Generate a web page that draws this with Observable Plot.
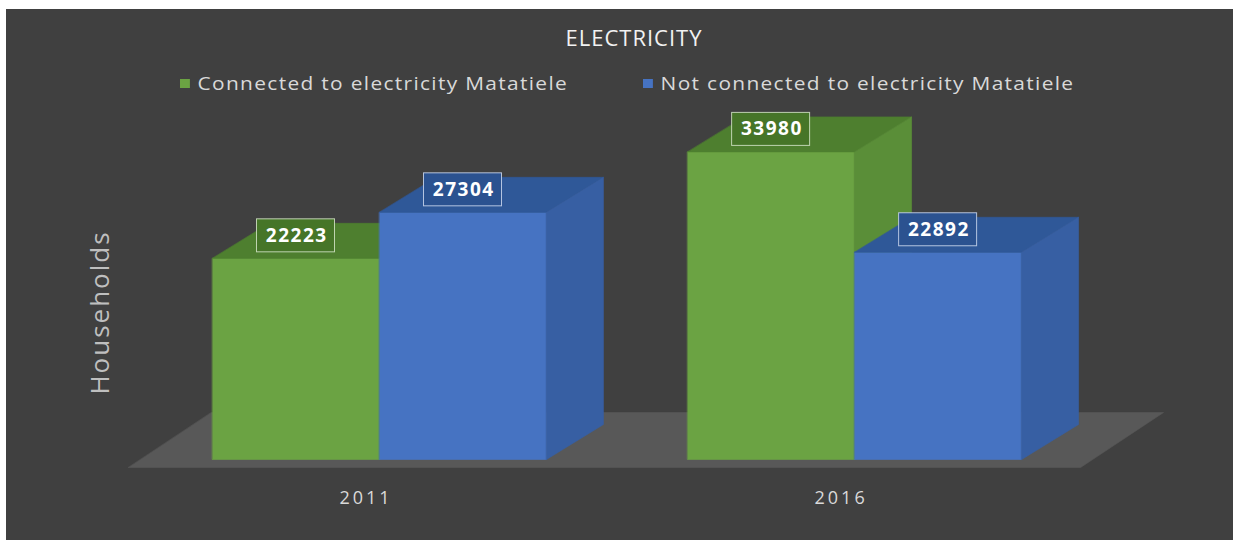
<!DOCTYPE html>
<html>
<head>
<meta charset="utf-8">
<script src="https://cdn.jsdelivr.net/npm/d3@7"></script>
<script src="https://cdn.jsdelivr.net/npm/@observablehq/plot@0.6"></script>
<style>
  html, body { margin: 0; padding: 0; background: #ffffff; }
  body { width: 1233px; height: 540px; position: relative; overflow: hidden; font-family: "Open Sans", "Noto Sans", sans-serif; }
  #frame { position: absolute; left: 6px; top: 9px; width: 1227px; height: 531px; background: #404040; }
  #title { position: absolute; left: 0; width: 1256px; top: 13px; text-align: center; color: #f2f2f2; font-size: 22px; letter-spacing: 1px; }
  .leg { position: absolute; top: 61px; color: #d9d9d9; font-size: 19px; letter-spacing: 1.2px; white-space: nowrap; transform: scaleX(1.1); transform-origin: 0 50%; }
  .sw { display: inline-block; width: 9px; height: 9px; margin-right: 7px; vertical-align: 2px; }
  #chart { position: absolute; left: 0; top: 100px; }
  .hh text { letter-spacing: 2px; }
  .vals text { letter-spacing: 1.5px; }
  .years text { letter-spacing: 3px; }
</style>
</head>
<body>
<div id="frame">
  <div id="title">ELECTRICITY</div>
  <div id="legend"></div>
  <div id="chart"></div>
</div>
<script>
// ---- data ----
const years = ["2011", "2016"];
const seriesNames = ["Connected to electricity Matatiele", "Not connected to electricity Matatiele"];
const connected = [22223, 33980];
const notConnected = [27304, 22892];

// ---- styles ----
const frontColors = ["#6ba343", "#4673c2"];
const topColors = ["#4e7f2f", "#2f5898"];
const sideColors = ["#5a8e38", "#375fa3"];
const boxFills = ["#467528", "#2b5290"];
const boxStrokes = ["#d4e4c8", "#cdd8ee"];
const GAP = 0.845;          // gap between year groups (in bar widths)
const DX = 0.341, DY = 3867; // 3D depth offset (x in bar widths, y in value units)
const FLOOR = {left: -0.503, right: 5.198, front: -884, back: 5193, dx: 0.497};

const seriesValues = [connected, notConnected];
const bars = [];
years.forEach((year, i) => {
  seriesNames.forEach((s, j) => {
    const x0 = i * (2 + GAP) + j;
    bars.push({year, s, j, value: seriesValues[j][i], x0, x1: x0 + 1, cx: x0 + 0.5});
  });
});

// polygons in painter order
const polys = [];
let pid = 0;
function poly(points, color) {
  const id = pid++;
  points.forEach(([x, y]) => polys.push({id, x, y, color}));
}
poly([[FLOOR.left, FLOOR.front], [FLOOR.right, FLOOR.front],
      [FLOOR.right + FLOOR.dx, FLOOR.back], [FLOOR.left + FLOOR.dx, FLOOR.back]], "#585858");
for (const b of bars) {
  const v = b.value;
  poly([[b.x0, 0], [b.x1, 0], [b.x1, v], [b.x0, v]], frontColors[b.j]);
  poly([[b.x0, v], [b.x1, v], [b.x1 + DX, v + DY], [b.x0 + DX, v + DY]], topColors[b.j]);
  poly([[b.x1, 0], [b.x1 + DX, DY], [b.x1 + DX, v + DY], [b.x1, v]], sideColors[b.j]);
}

const yearLabels = years.map((year, i) => ({year, cx: i * (2 + GAP) + 1, y0: 0}));
const xMax = (years.length - 1) * (2 + GAP) + seriesNames.length;

const chart = Plot.plot({
  width: 1227,
  height: 431,
  marginLeft: 206,
  marginRight: 1227 - 206 - xMax * 167,
  marginTop: 6,
  marginBottom: 81,
  style: {background: "transparent", fontFamily: "'Open Sans', 'Noto Sans', sans-serif", overflow: "visible"},
  x: {domain: [0, xMax], axis: null},
  y: {domain: [0, 38000], axis: null},
  color: {type: "identity"},
  marks: [
    Plot.line(polys, {x: "x", y: "y", z: "id", fill: "color", stroke: "color", strokeWidth: 0.6, curve: "linear-closed"}),
    Plot.rect(bars, {x1: "cx", x2: "cx", y1: "value", y2: "value",
      insetLeft: -39, insetRight: -39, insetTop: -16.5, insetBottom: -16.5, dy: -22.5,
      fill: d => boxFills[d.j], stroke: d => boxStrokes[d.j], strokeWidth: 1, strokeOpacity: 0.85}),
    Plot.text(bars, {x: "cx", y: "value", dy: -22.5, dx: 0.75, text: d => String(d.value),
      fill: "#ffffff", fontWeight: "bold", fontSize: 19, className: "vals"}),
    Plot.text(yearLabels, {x: "cx", y: "y0", dy: 39, dx: -13.5, text: "year", fill: "#d9d9d9", fontSize: 18, className: "years"}),
    Plot.text(["Households"], {frameAnchor: "left", textAnchor: "middle", rotate: -90, dx: -112, dy: 25, text: d => d,
      fill: "#bfbfbf", fontSize: 26, className: "hh"})
  ]
});
document.getElementById("chart").appendChild(chart);

// legend
const legend = document.getElementById("legend");
const legPos = [{sw: 174, tx: 194}, {sw: 637, tx: 654}];
seriesNames.forEach((name, j) => {
  const d = document.createElement("div");
  d.className = "leg";
  d.style.left = (legPos[j].sw) + "px";
  d.innerHTML = `<span class="sw" style="background:${frontColors[j]}"></span>${name}`;
  legend.appendChild(d);
});
</script>
</body>
</html>
